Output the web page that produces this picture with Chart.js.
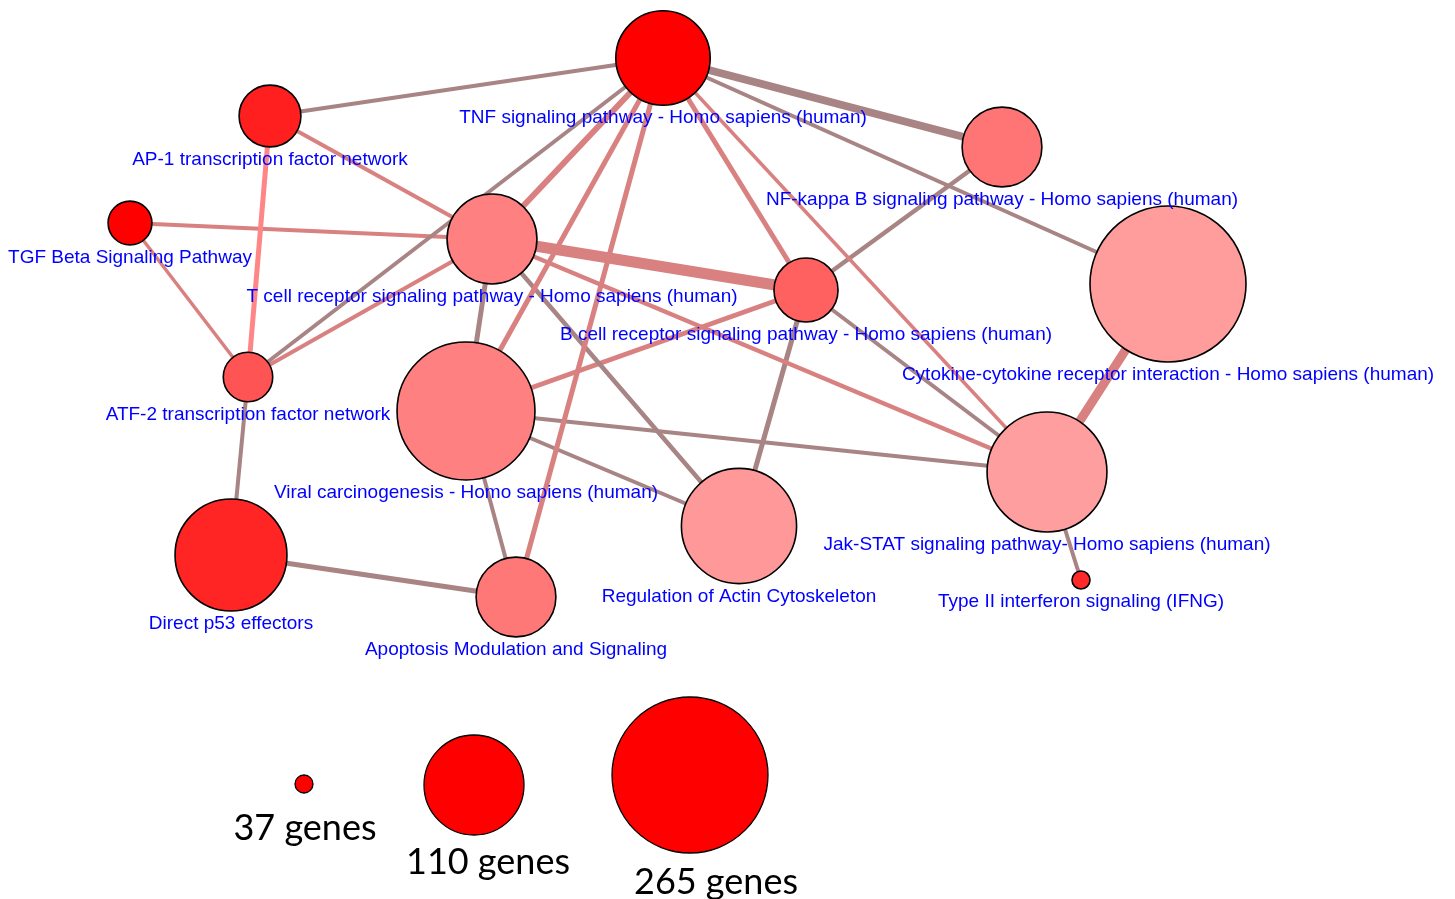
<!DOCTYPE html>
<html>
<head>
<meta charset="utf-8">
<title>Pathway enrichment network</title>
<script src="https://cdn.jsdelivr.net/npm/chart.js@4.4.1/dist/chart.umd.min.js"></script>
<style>
  html, body { margin: 0; padding: 0; background: #ffffff; overflow: hidden; }
  #wrap { position: relative; width: 1455px; height: 899px; }
</style>
</head>
<body>
<div id="wrap"><canvas id="net"></canvas></div>
<script>
// ---- Pathway nodes ----
const nodeNames = [
  'TNF signaling pathway - Homo sapiens (human)',
  'AP-1 transcription factor network',
  'TGF Beta Signaling Pathway',
  'T cell receptor signaling pathway - Homo sapiens (human)',
  'B cell receptor signaling pathway - Homo sapiens (human)',
  'NF-kappa B signaling pathway - Homo sapiens (human)',
  'Cytokine-cytokine receptor interaction - Homo sapiens (human)',
  'ATF-2 transcription factor network',
  'Viral carcinogenesis - Homo sapiens (human)',
  'Direct p53 effectors',
  'Apoptosis Modulation and Signaling',
  'Regulation of Actin Cytoskeleton',
  'Jak-STAT signaling pathway- Homo sapiens (human)',
  'Type II interferon signaling (IFNG)'
];
// layout coordinates of each pathway node
const nodeLayoutX = [663, 270, 130, 492, 806, 1002, 1168, 248, 466, 231, 516, 739, 1047, 1081];
const nodeLayoutY = [58, 116, 223, 239, 290, 147, 284, 377, 411, 555, 597, 526, 472, 580];
// genes per pathway (node size)
const nodeGenes = [105, 76, 60, 101, 78, 92, 265, 65, 215, 143, 92, 152, 165, 37];
// enrichment significance, 1 = strongest (node colour)
const nodeSignificance = [1.0, 0.88, 1.0, 0.5, 0.62, 0.54, 0.39, 0.67, 0.5, 0.855, 0.53, 0.4, 0.38, 0.84];

// ---- Shared-gene links between pathways ----
const edgeSource = [0, 0, 0, 0, 0, 0, 0, 0, 0, 1, 1, 2, 2, 3, 3, 3, 3, 3, 4, 4, 4, 4, 8, 8, 8, 9, 7, 6, 12];
const edgeTarget = [1, 5, 6, 7, 3, 8, 10, 4, 12, 3, 7, 3, 7, 4, 7, 8, 11, 12, 8, 5, 11, 12, 11, 12, 10, 10, 9, 12, 13];
const edgeWeight = [4, 8, 4, 4, 6, 5, 5, 5, 3.5, 4, 5, 4, 3.5, 11, 4, 5, 4.5, 4.5, 5, 4.5, 5, 4, 4, 4, 4, 5, 4, 9, 4];
const edgeKind   = ['g','g','g','g','p','p','p','p','p','p','b','p','p','p','p','g','g','p','p','g','g','g','g','g','g','g','g','p','g'];

// ---- Size legend ----
const legendGenes  = [37, 110, 265];
const legendLabels = ['37 genes', '110 genes', '265 genes'];
const legendX = [304, 474, 690];
const legendY = [784, 785, 775];

// ---- styling helpers ----
const sizeStops = [[37, 9], [110, 50], [265, 78]]; // genes -> radius in px
function radiusFor(genes) {
  if (genes <= sizeStops[0][0]) return sizeStops[0][1];
  for (let i = 1; i < sizeStops.length; i++) {
    const [g0, r0] = sizeStops[i - 1], [g1, r1] = sizeStops[i];
    if (genes <= g1) return r0 + (genes - g0) * (r1 - r0) / (g1 - g0);
  }
  const [g0, r0] = sizeStops[sizeStops.length - 2], [g1, r1] = sizeStops[sizeStops.length - 1];
  return r1 + (genes - g1) * (r1 - r0) / (g1 - g0);
}
function colourFor(sig) {
  const g = Math.round(255 * (1 - sig));
  return `rgb(255,${g},${g})`;
}
const edgeColours = { g: 'rgb(168,132,132)', p: 'rgb(217,128,128)', b: 'rgb(255,134,134)' };

// ---- datasets ----
const edgeDatasets = edgeSource.map((s, i) => {
  const t = edgeTarget[i];
  return {
    type: 'line',
    data: [{ x: nodeLayoutX[s], y: nodeLayoutY[s] }, { x: nodeLayoutX[t], y: nodeLayoutY[t] }],
    borderColor: edgeColours[edgeKind[i]],
    borderWidth: edgeWeight[i],
    borderCapStyle: 'butt',
    pointRadius: 0,
    pointHoverRadius: 0,
    fill: false,
    tension: 0,
    order: 5
  };
});

const nodeDataset = {
  type: 'bubble',
  label: 'pathways',
  data: nodeNames.map((n, i) => ({ x: nodeLayoutX[i], y: nodeLayoutY[i], r: radiusFor(nodeGenes[i]) })),
  backgroundColor: nodeSignificance.map(colourFor),
  borderColor: '#000000',
  borderWidth: 1.6,
  order: 1
};

const legendDataset = {
  type: 'bubble',
  label: 'size legend',
  data: legendGenes.map((g, i) => ({ x: legendX[i], y: legendY[i], r: radiusFor(g) })),
  backgroundColor: 'rgb(255,0,0)',
  borderColor: '#000000',
  borderWidth: 1.3,
  order: 1
};

// Draws pathway names under their nodes and the legend captions
const labelPlugin = {
  id: 'nodeLabels',
  afterDatasetsDraw(chart) {
    const ctx = chart.ctx;
    const nodeMeta = chart.getDatasetMeta(chart.data.datasets.indexOf(nodeDataset));
    ctx.save();
    ctx.fillStyle = '#0000ff';
    ctx.font = '19px "Liberation Sans", Arial, sans-serif';
    ctx.textAlign = 'center';
    ctx.textBaseline = 'alphabetic';
    nodeMeta.data.forEach((el, i) => {
      const r = nodeDataset.data[i].r;
      ctx.fillText(nodeNames[i], el.x, el.y + r + 18);
    });
    const legMeta = chart.getDatasetMeta(chart.data.datasets.indexOf(legendDataset));
    const gaps = [35, 27, 29];
    const shifts = [1, 14, 26];
    ctx.fillStyle = '#000000';
    ctx.font = '36px Lato, "Open Sans", sans-serif';
    ctx.textBaseline = 'middle';
    legMeta.data.forEach((el, i) => {
      const r = legendDataset.data[i].r;
      ctx.fillText(legendLabels[i], el.x + shifts[i], el.y + r + gaps[i]);
    });
    ctx.restore();
  }
};

new Chart(document.getElementById('net'), {
  type: 'bubble',
  data: { datasets: [...edgeDatasets, nodeDataset, legendDataset] },
  options: {
    responsive: true,
    maintainAspectRatio: false,
    animation: false,
    events: [],
    layout: { padding: 0, autoPadding: false },
    clip: false,
    plugins: { legend: { display: false }, tooltip: { enabled: false }, title: { display: false } },
    scales: {
      x: { type: 'linear', min: 0, max: 1455, display: false },
      y: { type: 'linear', min: 0, max: 899, reverse: true, display: false }
    }
  },
  plugins: [labelPlugin]
});
</script>
</body>
</html>
